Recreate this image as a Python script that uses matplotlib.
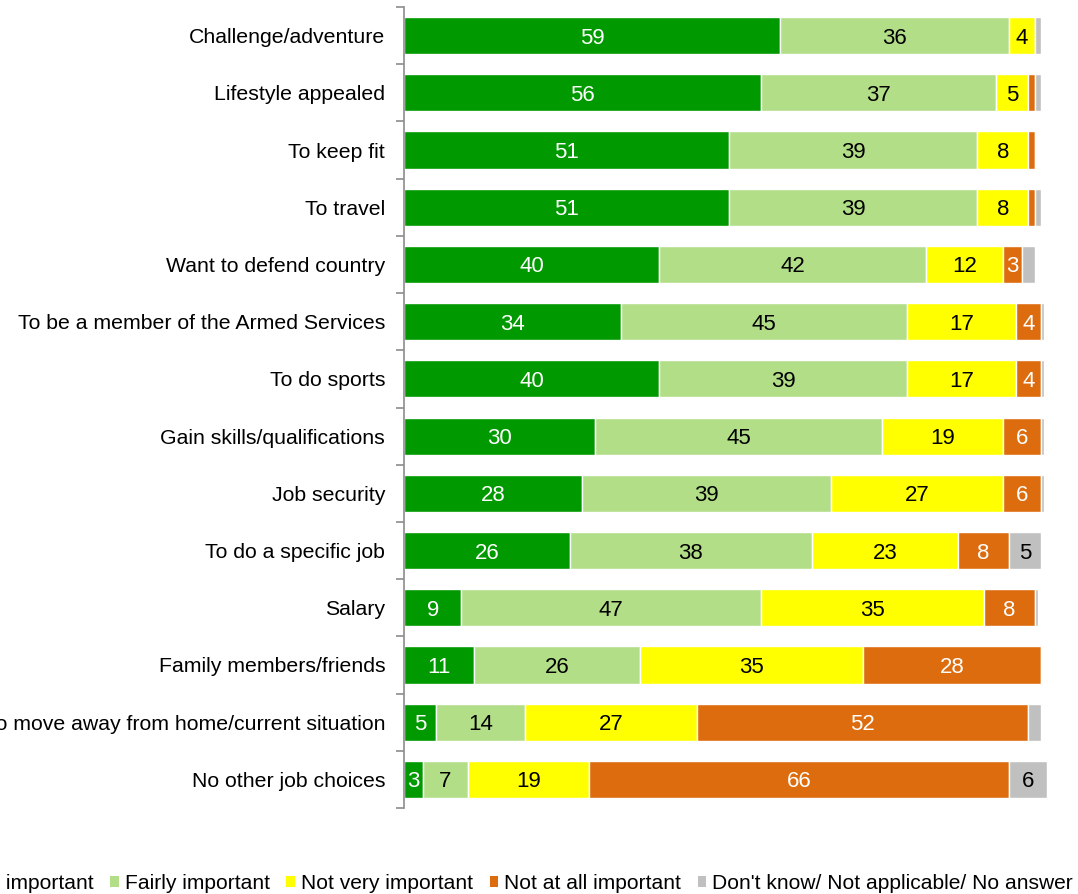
import matplotlib
matplotlib.use("Agg")
import matplotlib.pyplot as plt
from matplotlib.patches import Patch
import numpy as np

plt.rcParams['font.family'] = ['Liberation Sans', 'DejaVu Sans']

categories = [
    "Challenge/adventure",
    "Lifestyle appealed",
    "To keep fit",
    "To travel",
    "Want to defend country",
    "To be a member of the Armed Services",
    "To do sports",
    "Gain skills/qualifications",
    "Job security",
    "To do a specific job",
    "Salary",
    "Family members/friends",
    "To move away from home/current situation",
    "No other job choices",
]

very_important = [59, 56, 51, 51, 40, 34, 40, 30, 28, 26, 9, 11, 5, 3]
fairly_important = [36, 37, 39, 39, 42, 45, 39, 45, 39, 38, 47, 26, 14, 7]
not_very_important = [4, 5, 8, 8, 12, 17, 17, 19, 27, 23, 35, 35, 27, 19]
not_at_all_important = [0, 1, 1, 1, 3, 4, 4, 6, 6, 8, 8, 28, 52, 66]
dont_know = [1, 1, 0, 1, 2, 0.5, 0.5, 0.5, 0.5, 5, 0.5, 0, 2, 6]

series_names = [
    "Very important",
    "Fairly important",
    "Not very important",
    "Not at all important",
    "Don't know/ Not applicable/ No answer",
]
series_values = [very_important, fairly_important, not_very_important,
                 not_at_all_important, dont_know]
colors = ["#009900", "#B3DE88", "#FFFF00", "#DD6C0E", "#C0C0C0"]
text_colors = ["white", "black", "black", "white", "black"]

W, H = 1078, 894
fig = plt.figure(figsize=(W / 100, H / 100), dpi=100)
ax = fig.add_axes([404 / W, (H - 808) / H, (1041 - 404) / W, (808 - 7) / H])

y = np.arange(len(categories))
left = np.zeros(len(categories))
for name, vals, col, tcol in zip(series_names, series_values, colors, text_colors):
    vals = np.array(vals, dtype=float)
    ax.barh(y, vals, left=left, height=0.65, color=col,
            edgecolor="white", linewidth=1.0, label=name, clip_on=False)
    for yi, (l, v) in enumerate(zip(left, vals)):
        if v >= 3:
            ax.text(l + v / 2, yi, f"{v:g}", ha="center", va="center_baseline",
                    color=tcol, fontsize=16)
    left += vals

ax.set_xlim(0, 100)
ax.set_ylim(len(categories) - 0.5, -0.5)

ax.set_yticks(y)
ax.set_yticklabels(categories, fontsize=15.3)
ax.set_yticks(np.arange(-0.5, len(categories)), minor=True)
ax.tick_params(axis="y", which="major", length=0, pad=13.5)
ax.tick_params(axis="y", which="minor", length=6, width=1.2, color="#8C8C8C")
ax.set_xticks([])

for side in ["top", "right", "bottom"]:
    ax.spines[side].set_visible(False)
ax.spines["left"].set_color("#8C8C8C")
ax.spines["left"].set_linewidth(1.2)

handles = [Patch(facecolor=c, edgecolor="none") for c in colors]
fig.legend(handles, series_names, loc="center right", ncol=5,
           bbox_to_anchor=(1073 / W, 0.0115), frameon=False, fontsize=15.1,
           handlelength=0.4, handleheight=0.4, handletextpad=0.29,
           columnspacing=0.8, borderpad=0, borderaxespad=0)

fig.savefig("out.png", dpi=100)
